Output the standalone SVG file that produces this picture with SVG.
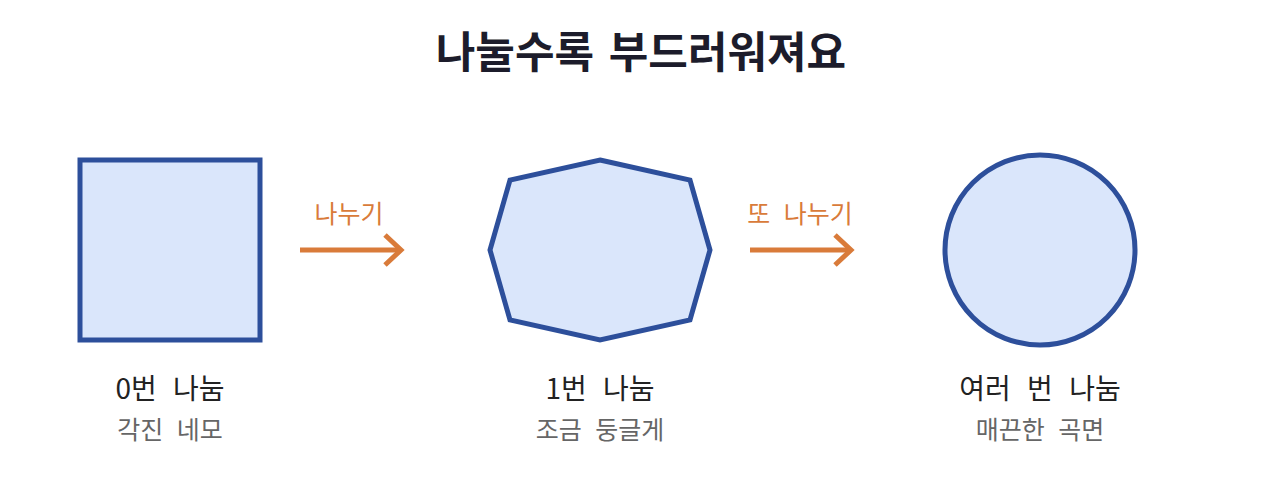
<svg xmlns="http://www.w3.org/2000/svg" width="1280" height="480" viewBox="0 0 1280 480">
<defs>
<style>
text{font-family:"Noto Sans CJK KR","Noto Sans",sans-serif;text-anchor:middle}
.title{font-size:43px;font-weight:700;fill:#1c1c2b;word-spacing:5px}
.name{font-size:28px;fill:#222;word-spacing:10px}
.sub{font-size:25px;fill:#666;word-spacing:8px}
.lab{font-size:25px;fill:#D97B3A;word-spacing:8px}
.shape{fill:#DAE6FB;stroke:#2D4F9B;stroke-width:5;stroke-linejoin:miter}
.arr{stroke:#D97B3A;stroke-width:5;fill:none}
</style>
</defs>
<rect width="1280" height="480" fill="#fff"/>
<text class="title" x="641" y="68">나눌수록 부드러워져요</text>
<g id="square">
<rect class="shape" x="80" y="160" width="180" height="180"/>
<text class="name" x="170" y="399">0번 나눔</text>
<text class="sub" x="170" y="439">각진 네모</text>
</g>
<g id="octagon">
<polygon class="shape" points="600,160 690,180 710,250 690,320 600,340 510,320 490,250 510,180"/>
<text class="name" x="600" y="399">1번 나눔</text>
<text class="sub" x="600" y="439">조금 둥글게</text>
</g>
<g id="circle">
<circle class="shape" cx="1040" cy="250" r="95"/>
<text class="name" x="1040" y="399">여러 번 나눔</text>
<text class="sub" x="1040" y="439">매끈한 곡면</text>
</g>
<g id="connectors">
<line class="arr" x1="300" y1="250" x2="400" y2="250"/>
<polyline class="arr" points="385,235 401,250 385,265"/>
<text class="lab" x="349" y="223">나누기</text>
<line class="arr" x1="750" y1="250" x2="850" y2="250"/>
<polyline class="arr" points="835,235 851,250 835,265"/>
<text class="lab" x="800" y="223">또 나누기</text>
</g>
</svg>
